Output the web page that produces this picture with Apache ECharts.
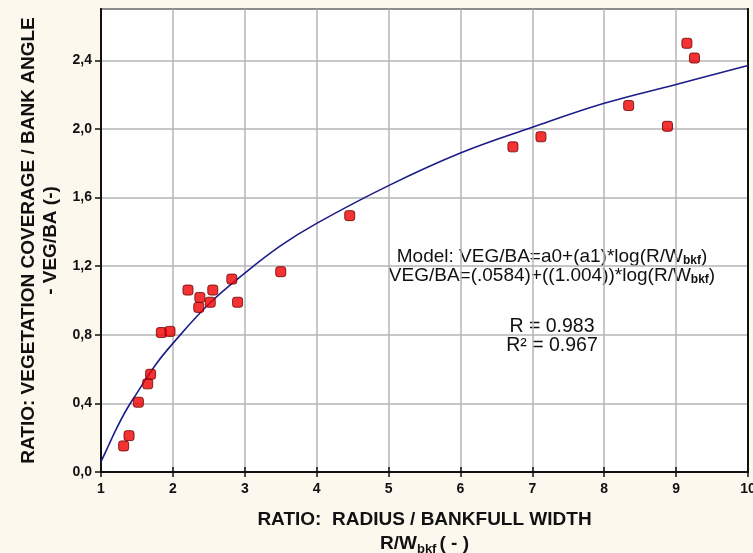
<!DOCTYPE html>
<html>
<head>
<meta charset="utf-8">
<script src="https://cdn.jsdelivr.net/npm/echarts@6/dist/echarts.min.js"></script>
<style>
html,body{margin:0;padding:0;background:#fcf8ee;}
#chart{width:753px;height:553px;}
</style>
</head>
<body>
<div id="chart"></div>
<script>
// Observed data points (R/Wbkf, VEG/BA)
const ratioRW = [1.315, 1.39, 1.52, 1.65, 1.69, 1.84, 1.96, 2.21, 2.375, 2.36, 2.52, 2.555, 2.82, 2.90, 3.5, 4.46, 6.73, 7.12, 8.34, 8.88, 9.15, 9.255];
const vegBA   = [0.152, 0.212, 0.407, 0.514, 0.57, 0.813, 0.82, 1.061, 1.018, 0.96, 0.99, 1.061, 1.125, 0.99, 1.168, 1.495, 1.896, 1.955, 2.137, 2.016, 2.50, 2.414];
// Fitted curve
const fitX = [1, 1.1, 1.2, 1.35, 1.5, 1.75, 2, 2.5, 3, 3.5, 4, 5, 6, 7, 8, 9, 10];
const fitY = [0.06, 0.15, 0.24, 0.36, 0.46, 0.62, 0.75, 0.98, 1.16, 1.32, 1.45, 1.67, 1.86, 2.01, 2.15, 2.26, 2.37];
// Tick values
const xTicks = [1, 2, 3, 4, 5, 6, 7, 8, 9, 10];
const yTicks = [0, 0.4, 0.8, 1.2, 1.6, 2.0, 2.4];

const scatterData = ratioRW.map((x, i) => [x, vegBA[i]]);
const fitData = fitX.map((x, i) => [x, fitY[i]]);

const chart = echarts.init(document.getElementById('chart'));
const FF = 'Liberation Sans, Arial, sans-serif';
const labelFont = {fontFamily: FF, fontWeight: 'bold', fontSize: 14, color: '#111'};
const gridLine = {show: true, lineStyle: {color: '#b4b4b4', width: 1.5}};

chart.setOption({
  backgroundColor: '#fcf8ee',
  animation: false,
  grid: {left: 101, right: 5, top: 9, bottom: 81, outerBoundsMode: 'none', containLabel: false,
         show: true, backgroundColor: '#ffffff', borderColor: '#111', borderWidth: 2},
  xAxis: [{
    type: 'value', min: 1, max: 10, interval: 1,
    axisLine: {show: true, onZero: false, lineStyle: {color: '#111', width: 2}},
    axisTick: {show: true, inside: true, length: 5, lineStyle: {color: '#111', width: 1.5}},
    axisLabel: Object.assign({margin: 10, formatter: v => xTicks.includes(v) ? String(v) : ''}, labelFont),
    splitLine: gridLine,
    name: 'RATIO:  RADIUS / BANKFULL WIDTH\n{n|R/W}{s|bkf}{n|( - )}',
    nameLocation: 'middle', nameGap: 36,
    nameTextStyle: {
      fontFamily: FF, fontWeight: 'bold', fontSize: 19, color: '#111', lineHeight: 24,
      rich: {
        n: {fontFamily: FF, fontWeight: 'bold', fontSize: 19, color: '#111', lineHeight: 24},
        s: {fontFamily: FF, fontWeight: 'bold', fontSize: 13, color: '#111', lineHeight: 24, verticalAlign: 'bottom', padding: [7, 3, 0, 0]}
      }
    }
  }, {
    type: 'value', min: 1, max: 10, interval: 1, position: 'top',
    axisLine: {show: true, lineStyle: {color: '#111', width: 2}},
    axisTick: {show: true, inside: true, length: 5, lineStyle: {color: '#111', width: 1.5}},
    axisLabel: {show: false}, splitLine: {show: false}
  }],
  yAxis: [{
    type: 'value', min: 0, max: 2.7, interval: 0.4,
    axisLine: {show: true, onZero: false, lineStyle: {color: '#111', width: 2}},
    axisTick: {show: true, inside: false, length: 6, lineStyle: {color: '#111', width: 1.5}},
    axisLabel: Object.assign({margin: 9, showMaxLabel: false, formatter: v => yTicks.some(t => Math.abs(t - v) < 1e-6) ? v.toFixed(1).replace('.', ',') : ''}, labelFont),
    splitLine: gridLine,
    name: 'RATIO: VEGETATION COVERAGE / BANK ANGLE\n- VEG/BA (-)',
    nameLocation: 'middle', nameRotate: 90, nameGap: 38,
    nameTextStyle: {fontFamily: FF, fontWeight: 'bold', fontSize: 19, color: '#111', lineHeight: 22}
  }, {
    type: 'value', min: 0, max: 2.7, interval: 0.4, position: 'right',
    axisLine: {show: true, lineStyle: {color: '#111', width: 2}},
    axisTick: {show: false}, axisLabel: {show: false}, splitLine: {show: false}
  }],
  series: [{
    type: 'line', data: fitData, smooth: 0.4, symbol: 'none',
    lineStyle: {color: '#1c1c8a', width: 1.6}, z: 3
  }, {
    type: 'scatter', data: scatterData, symbol: 'roundRect', symbolSize: 10,
    itemStyle: {color: '#f00000', borderColor: '#6a0000', borderWidth: 1}, z: 4
  }],
  graphic: [{
    type: 'text', x: 552, y: 247,
    style: {
      text: '{n|Model: VEG/BA=a0+(a1)*log(R/W}{s|bkf}{n|)}\n{n|VEG/BA=(.0584)+((1.004))*log(R/W}{s|bkf}{n|)}',
      align: 'center', verticalAlign: 'top',
      rich: {
        n: {fontFamily: FF, fontSize: 19, fill: '#111', lineHeight: 19.5},
        s: {fontFamily: FF, fontSize: 12, fontWeight: 'bold', fill: '#111', lineHeight: 19.5, verticalAlign: 'bottom', padding: [7, 0, 0, 0]}
      }
    }
  }, {
    type: 'text', x: 552, y: 317,
    style: {
      text: 'R = 0.983\nR² = 0.967',
      align: 'center', verticalAlign: 'top',
      fontFamily: FF, fontSize: 19.5, fill: '#111', lineHeight: 19
    }
  }]
});
</script>
</body>
</html>
